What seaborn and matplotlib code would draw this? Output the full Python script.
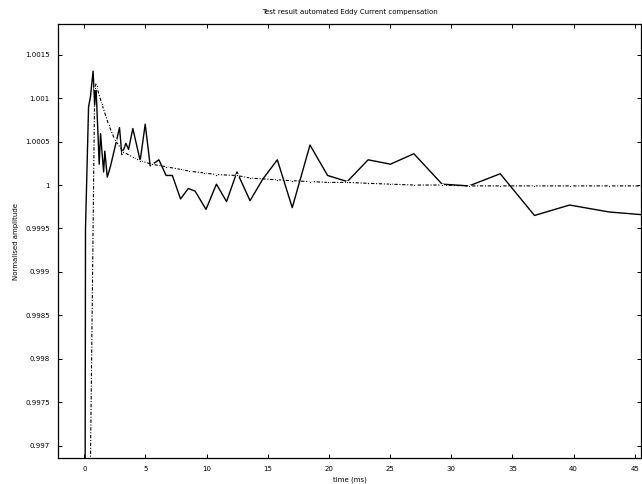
import matplotlib
matplotlib.use("Agg")
import matplotlib.pyplot as plt
import pandas as pd
import seaborn as sns

time_meas = [0.0, 0.1, 0.35, 0.5, 0.72, 0.85, 0.95, 1.11, 1.22, 1.33, 1.58, 1.68,
             1.88, 2.15, 2.5, 2.88, 3.07, 3.4, 3.62, 3.97, 4.57, 4.98, 5.39, 6.1,
             6.69, 7.2, 7.87, 8.5, 9.06, 9.95, 10.8, 11.63, 12.48, 13.55, 14.6,
             15.78, 17.0, 18.45, 19.89, 21.5, 23.2, 25.03, 26.94, 29.25, 31.45,
             34.0, 36.8, 39.67, 42.9, 45.5]
amp_meas = [0.99, 0.9995, 1.0009, 1.00101, 1.00131, 1.00092, 1.00116, 1.00062,
            1.00024, 1.00059, 1.00015, 1.00039, 1.00009, 1.00022, 1.00043,
            1.00066, 1.00035, 1.00048, 1.00041, 1.00065, 1.00028, 1.0007,
            1.00022, 1.00029, 1.00011, 1.00011, 0.99984, 0.99996, 0.99993,
            0.99972, 1.00001, 0.99981, 1.00015, 0.99982, 1.00007, 1.00029,
            0.99974, 1.00046, 1.00011, 1.00004, 1.00029, 1.00024, 1.00036,
            1.00001, 0.99999, 1.00013, 0.99965, 0.99977, 0.99969, 0.99966]

# Compensation curve (dash-dot with dots)
time_fit = [0.4, 0.85, 1.0, 1.44, 2.0, 2.5, 3.2, 3.97, 4.57, 5.5, 6.69, 7.87,
            8.6, 9.75, 10.8, 12.48, 13.55, 15.78, 17.0, 18.45, 19.89, 21.5,
            23.2, 25.03, 26.94, 29.25, 31.45, 34.0, 36.8, 39.67, 42.9, 45.5]
amp_fit = [0.9955, 1.00112, 1.00114, 1.00093, 1.00069, 1.00052, 1.00038,
           1.00032, 1.00028, 1.00024, 1.00021, 1.00018, 1.00016, 1.00014,
           1.00012, 1.00011, 1.00008, 1.00006, 1.00005, 1.00004, 1.00003,
           1.00003, 1.00002, 1.00001, 1.0, 1.0, 0.99999, 0.99999, 0.99999,
           0.99999, 0.99999, 0.99999]

x_ticks = [0, 5, 10, 15, 20, 25, 30, 35, 40, 45]
y_ticks = [0.997, 0.9975, 0.998, 0.9985, 0.999, 0.9995, 1.0, 1.0005, 1.001, 1.0015]
y_labels = ["0.997", "0.9975", "0.998", "0.9985", "0.999", "0.9995", "1",
            "1.0005", "1.001", "1.0015"]

df_meas = pd.DataFrame({"time": time_meas, "amp": amp_meas})
df_fit = pd.DataFrame({"time": time_fit, "amp": amp_fit})

sns.set_style("white")
plt.rcParams['font.family'] = ['DejaVu Sans']
plt.rcParams['text.color'] = 'black'
plt.rcParams['axes.labelcolor'] = 'black'

fig = plt.figure(figsize=(6.42, 4.84), dpi=100)
ax = fig.add_axes([0.0903, 0.0537, 0.908, 0.8963])

sns.lineplot(data=df_meas, x="time", y="amp", ax=ax, color="black",
             linewidth=1.0, estimator=None, sort=False)
sns.lineplot(data=df_fit, x="time", y="amp", ax=ax, color="black",
             linewidth=0.8, linestyle=(0, (3, 1.5, 1, 1.5)), marker=".",
             markersize=3.5, estimator=None, sort=False)

ax.set_xlim(-2.15, 45.5)
ax.set_ylim(0.99686, 1.00185)
ax.set_xticks(x_ticks)
ax.set_yticks(y_ticks)
ax.set_yticklabels(y_labels)
ax.tick_params(direction="in", length=3, width=0.7, labelsize=5,
               colors="black", top=True, right=True, bottom=True, left=True, pad=6)
for s in ax.spines.values():
    s.set_color("black")
    s.set_linewidth(0.9)

ax.set_title("Test result automated Eddy Current compensation", fontsize=5, pad=7)
ax.set_xlabel("time (ms)", fontsize=5, labelpad=3)
ax.set_ylabel("Normalised amplitude", fontsize=5, labelpad=4)

fig.savefig("out.png", dpi=100)
